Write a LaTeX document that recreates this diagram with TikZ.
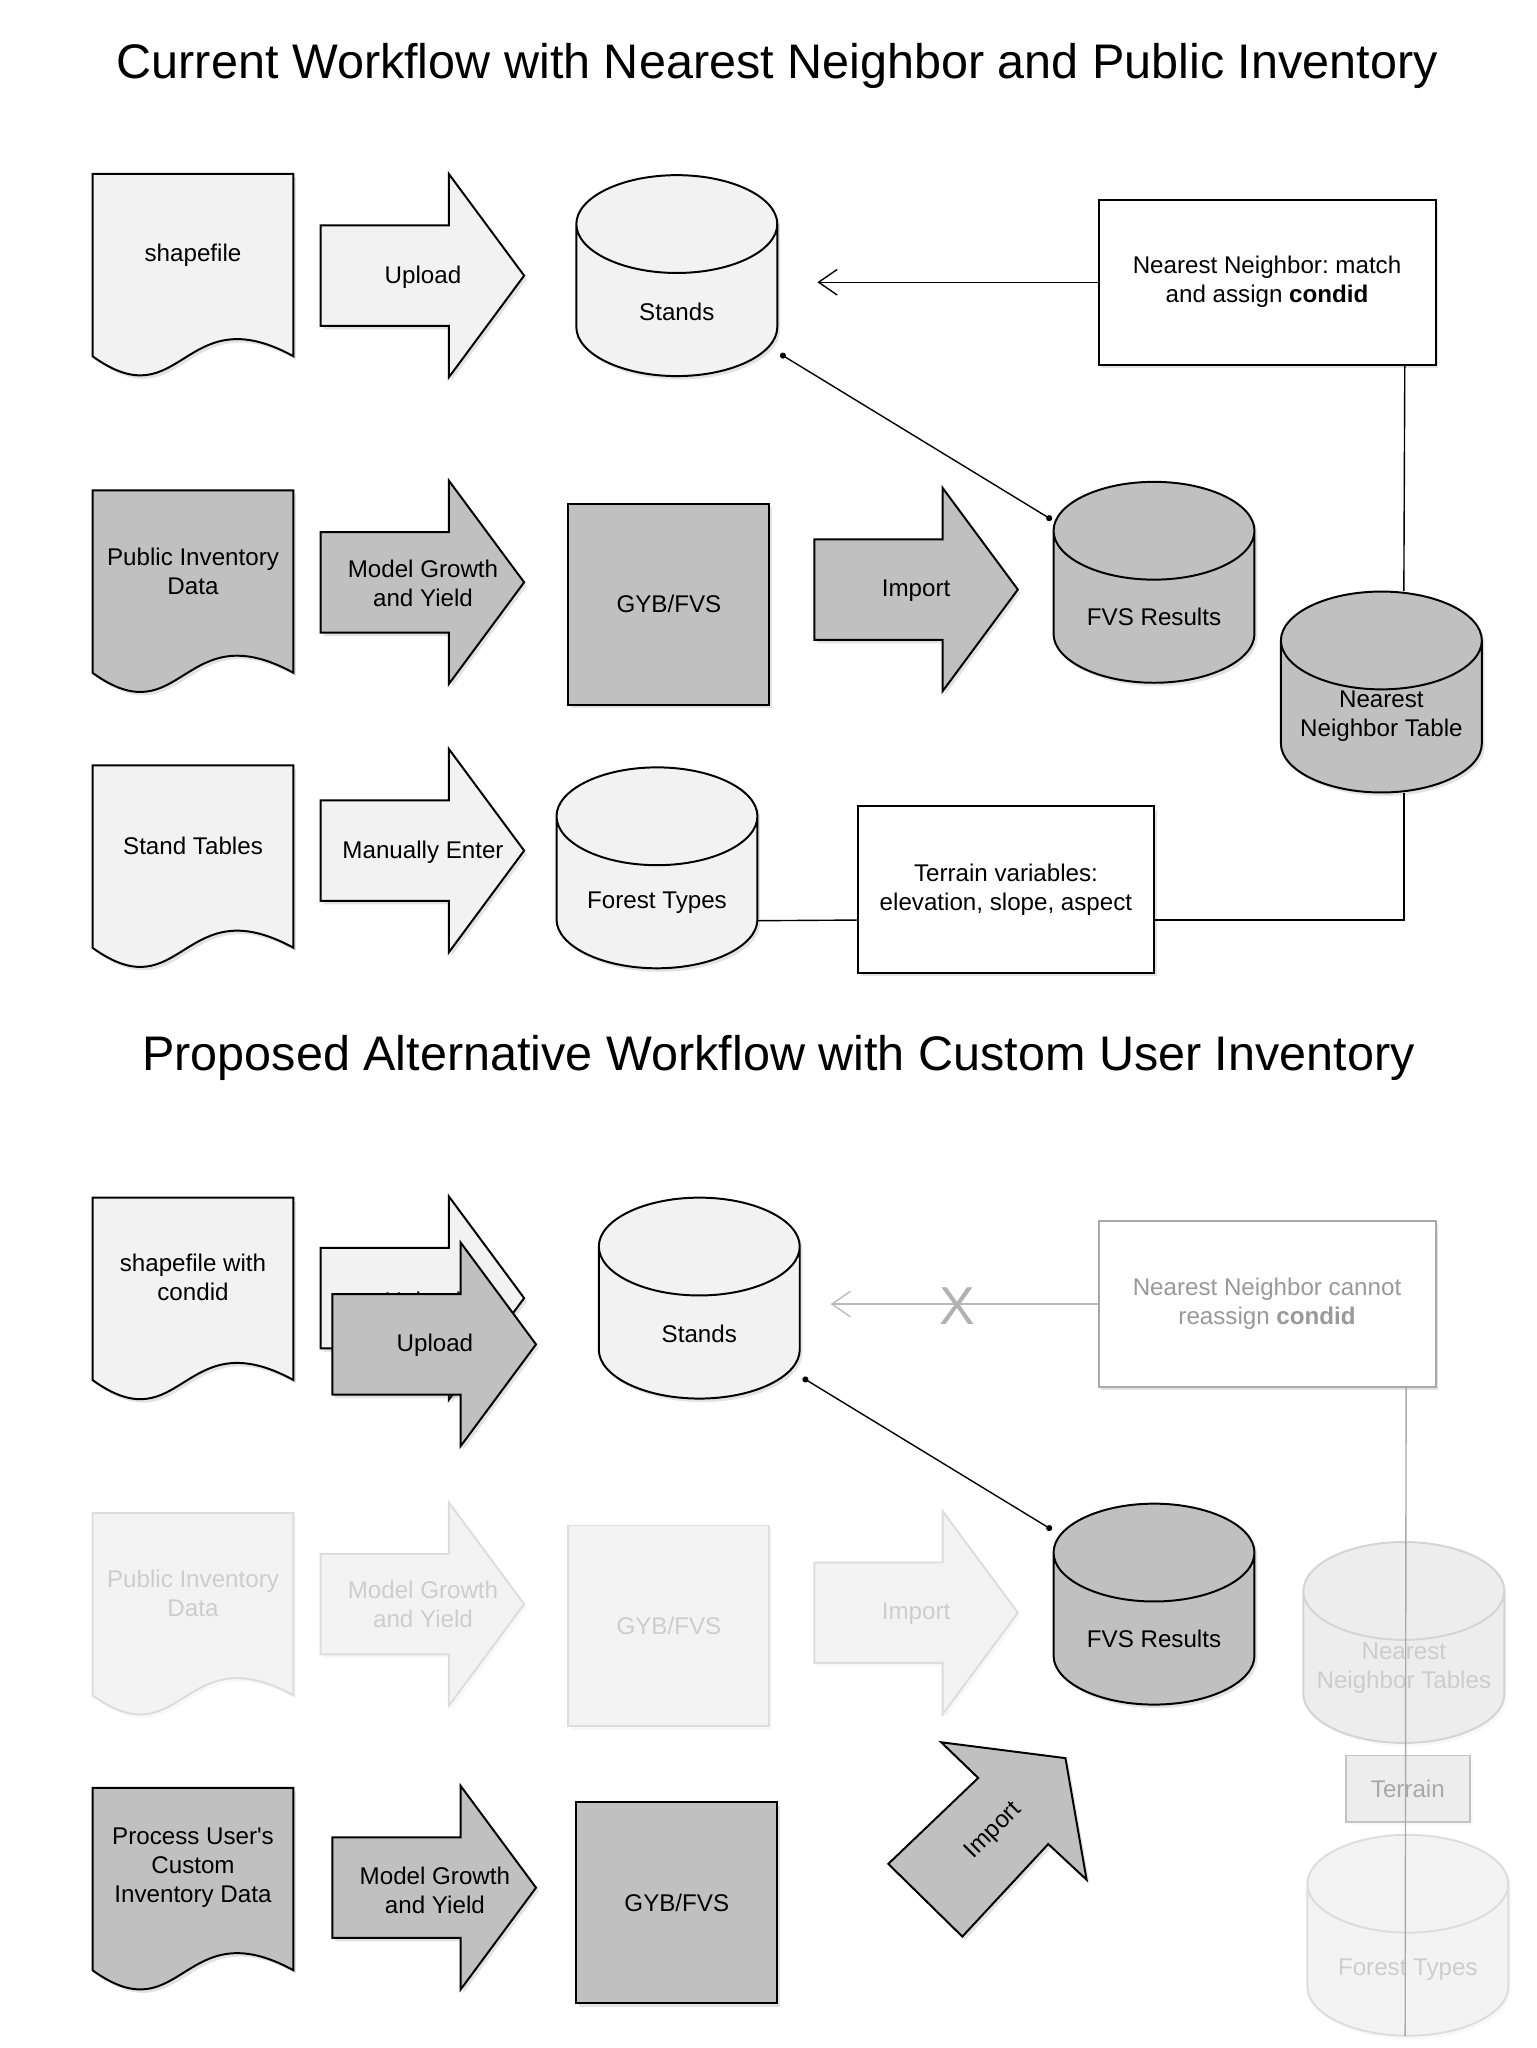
\documentclass[tikz,border=0pt]{standalone}
\usepackage{fontspec}
\setmainfont{Liberation Sans}
\usetikzlibrary{shadows,calc,arrows.meta}
\frenchspacing

\definecolor{paper}{HTML}{F2F2F2}
\definecolor{stone}{HTML}{C0C0C0}
\definecolor{mist}{HTML}{F3F3F3}
\definecolor{mistline}{HTML}{DDDDDD}
\definecolor{misttext}{HTML}{CDCDCD}
\definecolor{haze}{HTML}{EDEDED}
\definecolor{hazeline}{HTML}{D4D4D4}
\definecolor{fadeline}{HTML}{A9A9A9}
\definecolor{fadetext}{HTML}{999999}

% shapes drawn round a centre, with a named box for the connectors
\newcommand{\docat}[3]{%
  \draw[#3, shift={#2}] (-76,-77) -- (76,-77) -- (76,61)
    .. controls (-8,15) and (-8,110) .. (-76,61) -- cycle;
  \node[shapebox] (#1) at #2 {};}
\newcommand{\arrowat}[3]{%
  \draw[#3, shift={#2}] (-77,-38) -- (20,-38) -- (20,-77) -- (77,0)
    -- (20,77) -- (20,38) -- (-77,38) -- cycle;
  \node[shapebox] (#1) at #2 {};}
\newcommand{\cylat}[3]{%
  \draw[#3, shift={#2}] (-76,-39) -- (-76,39)
    .. controls (-76,59) and (-42,76) .. (0,76)
    .. controls (42,76) and (76,59) .. (76,39) -- (76,-39)
    .. controls (76,-59) and (42,-76) .. (0,-76)
    .. controls (-42,-76) and (-76,-59) .. (-76,-39) -- cycle
    (-76,-39) .. controls (-76,-19) and (-42,-2) .. (0,-2)
    .. controls (42,-2) and (76,-19) .. (76,-39);
  \node[shapebox] (#1) at #2 {};}

\tikzset{
  outl/.style={line width=0.85pt, line join=miter},
  soft/.style={drop shadow={opacity=0.22, shadow xshift=1.2pt, shadow yshift=-1.5pt}},
  faint/.style={drop shadow={opacity=0.06, shadow xshift=1.2pt, shadow yshift=-1.5pt}},
  lite/.style={outl, soft, fill=paper, draw=black},
  dark/.style={outl, soft, fill=stone, draw=black},
  plain/.style={outl, soft, fill=white, draw=black},
  ghost/.style={outl, faint, fill=mist, draw=mistline},
  hazy/.style={outl, faint, fill=haze, draw=hazeline},
  lbl/.style={font=\fontsize{10.4}{12.5}\selectfont, align=center, inner sep=0pt},
  glbl/.style={lbl, text=misttext},
  headline/.style={font=\fontsize{20.9}{24}\selectfont, inner sep=0pt},
  shapebox/.style={inner sep=0pt, minimum width=3.04cm, minimum height=3.04cm},
  wire/.style={line width=0.6pt, draw=black},
  link/.style={wire, {Circle[length=2.6pt]}-{Circle[length=2.6pt]}},
  feed/.style={wire, -{Straight Barb[length=8pt,width=11pt]}},
}

\begin{document}
\begin{tikzpicture}[x=0.02cm, y=-0.02cm]
  \useasboundingbox (0,0) rectangle (1162,1549.3);

  % current workflow
  \node[headline] (title1) at (588,50)
    {Current Workflow with Nearest Neighbor and Public Inventory};

  \docat{shp}{(146,208.5)}{lite}
  \node[lbl] (shp-t) at (146,193) {shapefile};
  \arrowat{upl}{(319.5,208.5)}{lite}
  \node[lbl] (upl-t) at (320,210) {Upload};
  \cylat{stands}{(512,208.5)}{lite}
  \node[lbl] (stands-t) at (512,236) {Stands};
  \node[plain, lbl, minimum width=5.1cm, minimum height=2.5cm] (nnbox)
    at (958.5,213.5) {Nearest Neighbor: match\\and assign \textbf{condid}};

  \docat{pub}{(146,448)}{dark}
  \node[lbl] (pub-t) at (146,432) {Public Inventory\\Data};
  \arrowat{mgy}{(319.5,440.5)}{dark}
  \node[lbl] (mgy-t) at (320,441) {Model Growth\\and Yield};
  \node[dark, lbl, minimum width=3.04cm, minimum height=3.04cm] (gyb)
    at (506,457) {GYB/FVS};
  \arrowat{imp}{(693,446)}{dark}
  \node[lbl] (imp-t) at (693,447) {Import};
  \cylat{fvs}{(873,440.5)}{dark}
  \node[lbl] (fvs-t) at (873,467) {FVS Results};
  \cylat{nntab}{(1045,523.5)}{dark}
  \node[lbl] (nntab-t) at (1045,542) {Nearest\\Neighbor Table};

  \docat{stt}{(146,656)}{lite}
  \node[lbl] (stt-t) at (146,640) {Stand Tables};
  \arrowat{man}{(319.5,643.5)}{lite}
  \node[lbl] (man-t) at (320,645) {Manually Enter};
  \cylat{forest}{(497,656.5)}{lite}
  \node[lbl] (forest-t) at (497,683) {Forest Types};
  \node[plain, lbl, minimum width=4.48cm, minimum height=2.52cm] (terr)
    at (761,673) {Terrain variables:\\elevation, slope, aspect};

  \draw[feed, shorten >=0.6cm] (nnbox.west) -- (nnbox.west -| stands.east);
  \draw[link] ($(stands.south east)+(2,-17)$) -- ($(fvs.north west)+(-1,29)$);
  \draw[wire] ($(nnbox.south east)+(-24,0)$) -- ($(nntab.north)+(17,0)$);
  \draw[wire] ($(nntab.south)+(17,0)$) |- ($(terr.east)+(0,23)$);
  \draw[wire] ($(forest.east)+(0,40)$) -- ($(terr.west)+(0,23)$);

  % proposed workflow
  \node[headline] (title2) at (589,800)
    {Proposed Alternative Workflow with Custom User Inventory};

  \docat{shpc}{(146,983)}{lite}
  \node[lbl] (shpc-t) at (146,966) {shapefile with\\condid};
  \arrowat{uplb}{(319.5,982)}{lite}
  \node[lbl] (uplb-t) at (320,986) {Upload};
  \arrowat{uplf}{(328.5,1017)}{dark}
  \node[lbl] (uplf-t) at (329,1018) {Upload};
  \cylat{stands2}{(529,982)}{lite}
  \node[lbl] (stands2-t) at (529,1009) {Stands};
  \node[outl, soft, fill=white, draw=fadeline, lbl, text=fadetext,
    minimum width=5.1cm, minimum height=2.5cm] (nnno)
    at (958.5,986.5) {Nearest Neighbor cannot\\reassign \textbf{condid}};
  \draw[feed, draw=fadeline!80, shorten >=0.46cm] (nnno.west) -- (nnno.west -| stands2.east);
  \node[font=\fontsize{23}{23}\selectfont, text=fadeline!90, inner sep=0pt] (nox)
    at (724,988) {X};
  \cylat{fvs2}{(873,1213.5)}{dark}
  \node[lbl] (fvs2-t) at (873,1240) {FVS Results};

  \docat{gpub}{(146,1221.5)}{ghost}
  \node[glbl] (gpub-t) at (146,1205) {Public Inventory\\Data};
  \arrowat{gmgy}{(319.5,1213.5)}{ghost}
  \node[glbl] (gmgy-t) at (320,1214) {Model Growth\\and Yield};
  \node[ghost, glbl, minimum width=3.04cm, minimum height=3.04cm] (ggyb)
    at (506,1230) {GYB/FVS};
  \arrowat{gimp}{(693,1220)}{ghost}
  \node[glbl] (gimp-t) at (693,1221) {Import};
  \cylat{gnn}{(1062,1242.5)}{hazy}
  \node[glbl] (gnn-t) at (1062,1262) {Nearest\\Neighbor Tables};
  \node[outl, faint, fill=haze, draw=fadeline!70, lbl, text=fadeline,
    minimum width=1.88cm, minimum height=1cm] (gter) at (1065,1353) {Terrain};
  \cylat{gft}{(1065,1464)}{ghost}
  \node[glbl] (gft-t) at (1065,1490) {Forest Types};

  \docat{pcu}{(146,1429.5)}{dark}
  \node[lbl] (pcu-t) at (146,1413) {Process User\textquotesingle s\\Custom\\Inventory Data};
  \arrowat{mgy2}{(328.5,1428)}{dark}
  \node[lbl] (mgy2-t) at (329,1430) {Model Growth\\and Yield};
  \node[dark, lbl, minimum width=3.04cm, minimum height=3.04cm] (gyb2)
    at (512,1439.5) {GYB/FVS};
  \draw[dark] (672,1410) -- (740,1345) -- (712,1318) -- (806,1330)
    -- (822,1422) -- (793,1395) -- (728,1465) -- cycle;
  \node[lbl, rotate=45] (imp3) at (752,1385) {Import};

  \draw[link] ($(stands2.south east)+(2,-16)$) -- ($(fvs2.north west)+(-1,20)$);
  \draw[wire, draw=fadeline] ($(nnno.south east)+(-23,0)$) -- ($(gft.south)+(-2,0)$);
\end{tikzpicture}
\end{document}
